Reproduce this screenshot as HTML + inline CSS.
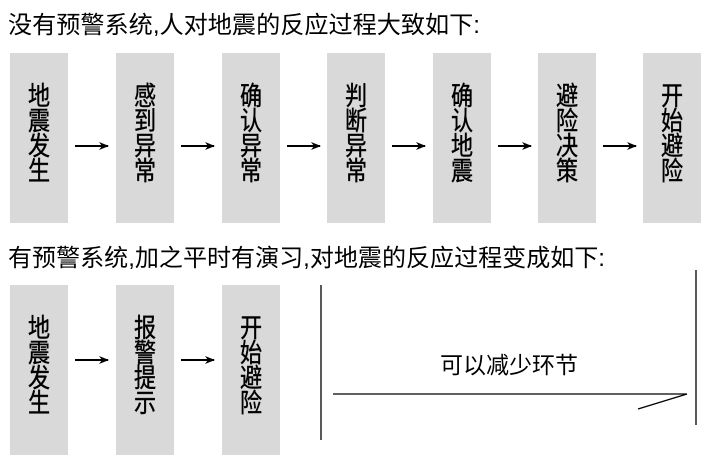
<!DOCTYPE html>
<html><head><meta charset="utf-8"><style>
html,body{margin:0;padding:0;background:#fff;width:727px;height:457px;overflow:hidden}
svg text{font-family:"Liberation Sans","Noto Sans CJK SC","WenQuanYi Zen Hei",sans-serif;fill:#000}
</style></head><body>
<svg width="727" height="457" xmlns="http://www.w3.org/2000/svg">
<defs><marker id="a" markerWidth="10" markerHeight="8" refX="9" refY="4" orient="auto" markerUnits="userSpaceOnUse"><path d="M0,0 L10,4 L0,8 L3,4 Z" fill="#000"/></marker></defs>
<text x="8" y="33" font-size="24" textLength="472" lengthAdjust="spacingAndGlyphs">没有预警系统,人对地震的反应过程大致如下:</text>
<text x="8" y="266" font-size="24" textLength="597" lengthAdjust="spacingAndGlyphs">有预警系统,加之平时有演习,对地震的反应过程变成如下:</text>
<g fill="#d9d9d9">
<rect x="10" y="53" width="58" height="170"/><rect x="116" y="53" width="58" height="170"/><rect x="222" y="53" width="58" height="170"/><rect x="327" y="53" width="58" height="170"/><rect x="433" y="53" width="58" height="170"/><rect x="538" y="53" width="58" height="170"/><rect x="643" y="53" width="58" height="170"/>
<rect x="10" y="285" width="58" height="170"/><rect x="116" y="285" width="58" height="170"/><rect x="222" y="285" width="58" height="170"/>
</g>
<g stroke="#000" stroke-width="2" marker-end="url(#a)">
<line x1="75" y1="146" x2="108" y2="146"/><line x1="181" y1="146" x2="214" y2="146"/><line x1="287" y1="146" x2="320" y2="146"/><line x1="392" y1="146" x2="425" y2="146"/><line x1="498" y1="146" x2="531" y2="146"/><line x1="603" y1="146" x2="636" y2="146"/>
<line x1="75" y1="360" x2="108" y2="360"/><line x1="181" y1="360" x2="214" y2="360"/>
</g>
<g stroke="#000" stroke-width="1.3" fill="none">
<line x1="321" y1="285" x2="321" y2="440"/>
<line x1="696" y1="270" x2="696" y2="425"/>
<line x1="333" y1="394" x2="687" y2="394"/>
<line x1="687" y1="394" x2="638" y2="409"/>
</g>
<text x="509" y="373" font-size="23" text-anchor="middle">可以减少环节</text>
<g font-size="26" text-anchor="middle" stroke="#000" stroke-width="0.4">
<text transform="translate(39,0) scale(0.85,1)"><tspan x="0" y="105">地</tspan><tspan x="0" y="130">震</tspan><tspan x="0" y="155">发</tspan><tspan x="0" y="180">生</tspan></text>
<text transform="translate(145,0) scale(0.85,1)"><tspan x="0" y="105">感</tspan><tspan x="0" y="130">到</tspan><tspan x="0" y="155">异</tspan><tspan x="0" y="180">常</tspan></text>
<text transform="translate(251,0) scale(0.85,1)"><tspan x="0" y="105">确</tspan><tspan x="0" y="130">认</tspan><tspan x="0" y="155">异</tspan><tspan x="0" y="180">常</tspan></text>
<text transform="translate(356,0) scale(0.85,1)"><tspan x="0" y="105">判</tspan><tspan x="0" y="130">断</tspan><tspan x="0" y="155">异</tspan><tspan x="0" y="180">常</tspan></text>
<text transform="translate(462,0) scale(0.85,1)"><tspan x="0" y="105">确</tspan><tspan x="0" y="130">认</tspan><tspan x="0" y="155">地</tspan><tspan x="0" y="180">震</tspan></text>
<text transform="translate(567,0) scale(0.85,1)"><tspan x="0" y="105">避</tspan><tspan x="0" y="130">险</tspan><tspan x="0" y="155">决</tspan><tspan x="0" y="180">策</tspan></text>
<text transform="translate(672,0) scale(0.85,1)"><tspan x="0" y="105">开</tspan><tspan x="0" y="130">始</tspan><tspan x="0" y="155">避</tspan><tspan x="0" y="180">险</tspan></text>
<text transform="translate(39,0) scale(0.85,1)"><tspan x="0" y="337">地</tspan><tspan x="0" y="362">震</tspan><tspan x="0" y="387">发</tspan><tspan x="0" y="412">生</tspan></text>
<text transform="translate(145,0) scale(0.85,1)"><tspan x="0" y="337">报</tspan><tspan x="0" y="362">警</tspan><tspan x="0" y="387">提</tspan><tspan x="0" y="412">示</tspan></text>
<text transform="translate(251,0) scale(0.85,1)"><tspan x="0" y="337">开</tspan><tspan x="0" y="362">始</tspan><tspan x="0" y="387">避</tspan><tspan x="0" y="412">险</tspan></text>
</g>
</svg>
</body></html>
